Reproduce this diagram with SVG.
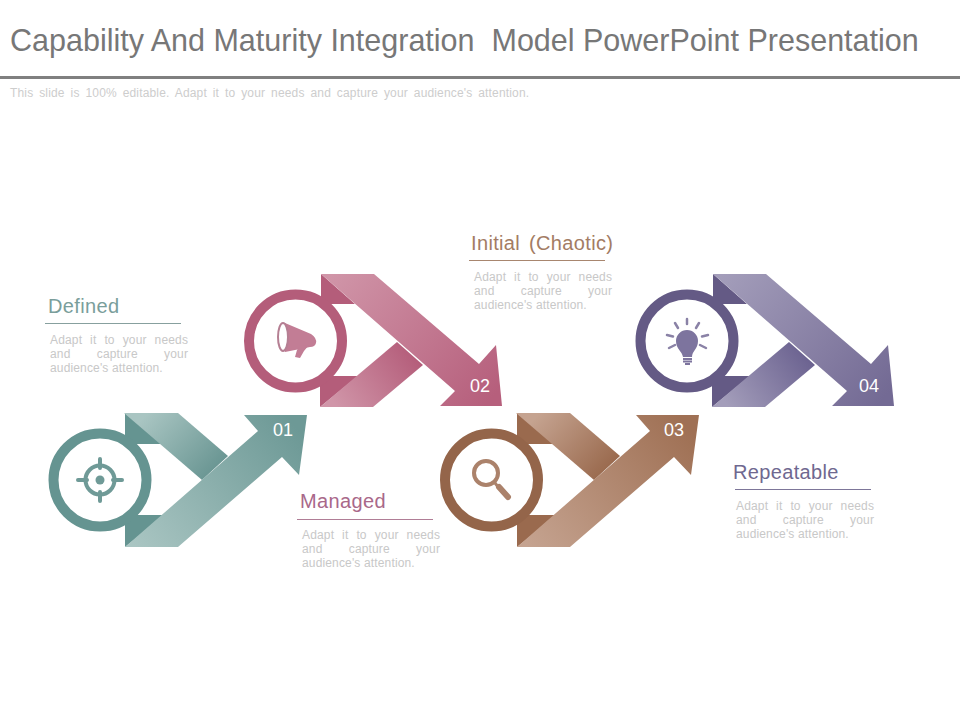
<svg xmlns="http://www.w3.org/2000/svg" width="960" height="720" viewBox="0 0 960 720">
<style>
text{font-family:"Liberation Sans",Arial,sans-serif}
.title{font-size:30.5px;fill:#777}
.sub{font-size:12px;fill:#cdcdcd;word-spacing:2.4px;letter-spacing:.16px}
.head{font-size:20px;letter-spacing:.35px;word-spacing:3px}
.body{font-size:12px;fill:#c8c8c8;letter-spacing:.15px}
.j1{word-spacing:4.5px}
.j2{word-spacing:22.8px}
.num{font-size:18px;fill:#fff;text-anchor:middle}
.ring{fill:#fff;stroke-width:10}
</style>
<defs>
<linearGradient id="t1" gradientUnits="userSpaceOnUse" x1="150" y1="410" x2="215" y2="470"><stop offset="0" stop-color="#a9c5c2"/><stop offset="1" stop-color="#6a9693"/></linearGradient>
<linearGradient id="t2" gradientUnits="userSpaceOnUse" x1="135" y1="547" x2="290" y2="420"><stop offset="0" stop-color="#a9c5c2"/><stop offset="1" stop-color="#6d9996"/></linearGradient>
<linearGradient id="p2" gradientUnits="userSpaceOnUse" x1="335" y1="270" x2="490" y2="400"><stop offset="0" stop-color="#d095a8"/><stop offset="1" stop-color="#b65f7c"/></linearGradient>
<linearGradient id="p3" gradientUnits="userSpaceOnUse" x1="335" y1="405" x2="412" y2="350"><stop offset="0" stop-color="#d095a8"/><stop offset="1" stop-color="#b45d7a"/></linearGradient>
<linearGradient id="b1" gradientUnits="userSpaceOnUse" x1="542" y1="410" x2="607" y2="470"><stop offset="0" stop-color="#c5a390"/><stop offset="1" stop-color="#9a6a4e"/></linearGradient>
<linearGradient id="b2" gradientUnits="userSpaceOnUse" x1="527" y1="547" x2="682" y2="420"><stop offset="0" stop-color="#c5a390"/><stop offset="1" stop-color="#9f7054"/></linearGradient>
<linearGradient id="v2" gradientUnits="userSpaceOnUse" x1="727" y1="270" x2="882" y2="400"><stop offset="0" stop-color="#a39dba"/><stop offset="1" stop-color="#736a94"/></linearGradient>
<linearGradient id="v3" gradientUnits="userSpaceOnUse" x1="727" y1="405" x2="804" y2="350"><stop offset="0" stop-color="#a39dba"/><stop offset="1" stop-color="#6b6290"/></linearGradient>
</defs>
<rect width="960" height="720" fill="#fff"/>
<g id="header">
<text class="title" x="10" y="51" xml:space="preserve">Capability And Maturity Integration  Model PowerPoint Presentation</text>
<rect x="0" y="76" width="960" height="3" fill="#808080"/>
<text class="sub" x="10" y="97">This slide is 100% editable. Adapt it to your needs and capture your audience's attention.</text>
</g>
<g id="connectors">
<g id="arrow-01">
<path d="M125 413L165 444H125Z M125 515H165L125 547Z" fill="#659491"/>
<path d="M124 413H178L228 456L202 480Z" fill="url(#t1)"/>
<path d="M125 547H178L282 457L299 475L307 415H244L258 431Z" fill="url(#t2)"/>
</g>
<g id="arrow-02">
<path d="M321 274L355 304H321Z M320 376H358L320 407Z" fill="#b45d7a"/>
<path d="M320 407H373L423 365L397 342Z" fill="url(#p3)"/>
<path d="M321 274H374L479 364L496 345L502 406H440L455 391Z" fill="url(#p2)"/>
</g>
<g id="arrow-03">
<path d="M517 413L557 444H517Z M517 515H557L517 547Z" fill="#9a6a4e"/>
<path d="M516 413H570L620 456L594 480Z" fill="url(#b1)"/>
<path d="M517 547H570L674 457L691 475L699 415H636L650 431Z" fill="url(#b2)"/>
</g>
<g id="arrow-04">
<path d="M713 274L747 304H713Z M712 376H750L712 407Z" fill="#645a85"/>
<path d="M712 407H765L815 365L789 342Z" fill="url(#v3)"/>
<path d="M713 274H766L871 364L888 345L894 406H832L847 391Z" fill="url(#v2)"/>
</g>
</g>
<g id="node-01">
<circle class="ring" cx="100" cy="480" r="46.5" stroke="#659491"/>
<g fill="none" stroke="#6f9a97" stroke-width="4" stroke-linecap="round">
<circle cx="100" cy="480" r="14.5"/>
<path d="M100 459V468M100 492V501M78 480H87M113 480H122"/>
</g>
<circle cx="100" cy="480" r="4.5" fill="#6f9a97"/>
<text class="num" x="283" y="436">01</text>
</g>
<g id="node-02">
<circle class="ring" cx="295.500" cy="341" r="46.500" stroke="#b45d7a"/>
<path d="M285 323L311 334Q317 338 316 343Q315 347 310 347L285 352Z" fill="#c27d95"/>
<ellipse cx="283" cy="337" rx="5" ry="14" fill="#fff" stroke="#b57f93" stroke-width="2"/>
<path d="M300 346L309 345L304 351L300 358L295 357L297 350Z" fill="#c27d95"/>
<text class="num" x="480" y="392">02</text>
</g>
<g id="node-03">
<circle class="ring" cx="491.500" cy="480" r="46.500" stroke="#94654a"/>
<circle cx="486" cy="473" r="12" fill="#fff" stroke="#ab826b" stroke-width="4"/>
<path d="M495 483L499 488" stroke="#ab826b" stroke-width="3"/>
<path d="M499 487L508 497" stroke="#ab826b" stroke-width="6" stroke-linecap="round"/>
<text class="num" x="674" y="436">03</text>
</g>
<g id="node-04">
<circle class="ring" cx="687" cy="341" r="46.500" stroke="#645a85"/>
<path d="M683 357C682 351 676 349 676 341A11 11 0 0 1 698 341C698 349 692 351 692 357Z" fill="#7d749e"/>
<path d="M683 359H692M683 361.500H692M685 364H690" stroke="#7d749e" stroke-width="1.800" fill="none"/>
<path d="M687 319V324M675 323L678 328M699 323L696 328M667 335L673 336.500M708 335L702 336.500M669 348L675 345M706 348L700 345" stroke="#8a82a6" stroke-width="2.500" stroke-linecap="round" fill="none"/>
<text class="num" x="869" y="392">04</text>
</g>
<g id="label-defined">
<text class="head" x="48" y="313" fill="#7a9e9b">Defined</text>
<rect x="45" y="323" width="136" height="1" fill="#87a09e"/>
<text class="body j1" x="50" y="344">Adapt it to your needs</text>
<text class="body j2" x="50" y="358">and capture your</text>
<text class="body" x="50" y="372">audience's attention.</text>
</g>
<g id="label-managed">
<text class="head" x="300" y="508" fill="#a9688a">Managed</text>
<rect x="297" y="519" width="136" height="1" fill="#b07d96"/>
<text class="body j1" x="302" y="539">Adapt it to your needs</text>
<text class="body j2" x="302" y="553">and capture your</text>
<text class="body" x="302" y="567">audience's attention.</text>
</g>
<g id="label-initial">
<text class="head" x="471" y="250" fill="#a37c64">Initial (Chaotic)</text>
<rect x="469" y="260" width="136" height="1" fill="#a8866f"/>
<text class="body j1" x="474" y="281">Adapt it to your needs</text>
<text class="body j2" x="474" y="295">and capture your</text>
<text class="body" x="474" y="309">audience's attention.</text>
</g>
<g id="label-repeatable">
<text class="head" x="733" y="479" fill="#6f6890">Repeatable</text>
<rect x="735" y="489" width="136" height="1" fill="#7d7699"/>
<text class="body j1" x="736" y="510">Adapt it to your needs</text>
<text class="body j2" x="736" y="524">and capture your</text>
<text class="body" x="736" y="538">audience's attention.</text>
</g>
</svg>
